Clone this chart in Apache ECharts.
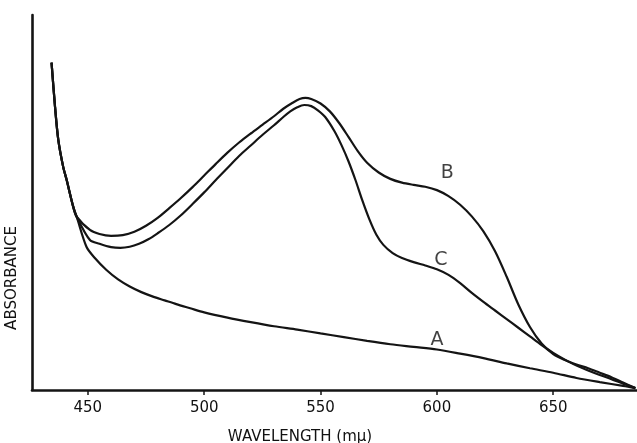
<!DOCTYPE html>
<html>
<head>
<meta charset="utf-8">
<script src="https://cdn.jsdelivr.net/npm/echarts@6/dist/echarts.min.js"></script>
<style>
  html, body { margin: 0; padding: 0; background: #fff; }
  #chart { width: 637px; height: 443px; }
</style>
</head>
<body>
<div id="chart"></div>
<script>
// Absorption spectra A, B and C (relative absorbance vs wavelength in mμ)

// Steep rising edge shared by all three spectra below ~445 mμ
const edgeWl  = [434.4, 435.9, 437.3, 439.4, 440.9, 443.7, 445.2];
const edgeAbs = [0.873, 0.755, 0.667, 0.595, 0.560, 0.489, 0.462];

const wlA  = [449.4, 453, 458, 463, 468, 473, 478, 483, 488, 494, 500, 510, 520, 530, 540, 550, 560, 570,
              580, 590, 600, 610, 620, 630, 640, 650, 660, 670, 680, 685.3];
const absA = [0.382, 0.352, 0.320, 0.295, 0.276, 0.261, 0.249, 0.239, 0.229, 0.218, 0.207, 0.193, 0.181, 0.170,
              0.161, 0.151, 0.141, 0.131, 0.122, 0.115, 0.108, 0.097, 0.085, 0.071, 0.058, 0.046, 0.032, 0.021,
              0.011, 0.005];

const wlB  = [450.9, 455, 460, 465, 470, 475, 480, 485, 490, 495, 500, 505, 510, 515, 520, 525, 530, 534, 538,
              541, 543.5, 546, 550, 554, 558, 562, 566, 570, 575, 580, 585, 590, 595, 600, 605, 610, 615, 620,
              625, 630, 635, 640, 645, 650, 655, 660, 665, 670, 675, 680, 685.3];
const absB = [0.427, 0.416, 0.411, 0.413, 0.422, 0.438, 0.459, 0.485, 0.512, 0.541, 0.572, 0.603, 0.633, 0.660,
              0.684, 0.707, 0.730, 0.750, 0.766, 0.776, 0.779, 0.776, 0.764, 0.743, 0.712, 0.675, 0.637, 0.606,
              0.580, 0.563, 0.553, 0.547, 0.542, 0.533, 0.517, 0.494, 0.463, 0.423, 0.370, 0.302, 0.228, 0.168,
              0.124, 0.096, 0.080, 0.068, 0.058, 0.046, 0.034, 0.020, 0.005];

const wlC  = [450.9, 455, 460, 464, 468, 472, 476, 480, 485, 490, 495, 500, 505, 510, 515, 520, 525, 530, 534,
              537, 540, 543, 546, 549, 552, 556, 559, 562, 565, 568, 571, 574, 577, 581, 585, 590, 595, 600,
              605, 610, 615, 620, 625, 630, 635, 640, 645, 650, 655, 660, 665, 670, 675, 680, 685.3];
const absC = [0.400, 0.390, 0.381, 0.379, 0.382, 0.390, 0.402, 0.418, 0.440, 0.466, 0.496, 0.527, 0.560, 0.592,
              0.624, 0.652, 0.680, 0.706, 0.728, 0.743, 0.754, 0.760, 0.757, 0.745, 0.728, 0.690, 0.653, 0.610,
              0.560, 0.505, 0.455, 0.414, 0.387, 0.365, 0.352, 0.341, 0.332, 0.322, 0.307, 0.285, 0.259, 0.235,
              0.212, 0.189, 0.166, 0.143, 0.120, 0.099, 0.081, 0.065, 0.052, 0.040, 0.029, 0.017, 0.005];

// Curve letters and where they sit
const curveNames = ['A', 'B', 'C'];
const nameWl  = [600.0, 604.5, 601.7];
const nameAbs = [0.133, 0.579, 0.347];

const xTicks = [450, 500, 550, 600, 650];

function pairs(xs, ys) {
  return xs.map((x, i) => [x, ys[i]]);
}
function withEdge(xs, ys) {
  return pairs(edgeWl, edgeAbs).concat(pairs(xs, ys));
}

const ink = '#141414';
const lineStyle = { color: ink, width: 2.2 };

const chart = echarts.init(document.getElementById('chart'), null, { renderer: 'canvas' });

function spectrum(name, xs, ys) {
  return {
    name, type: 'line', data: withEdge(xs, ys),
    showSymbol: false, smooth: 0.3, lineStyle
  };
}

chart.setOption({
  backgroundColor: '#ffffff',
  animation: false,
  grid: { left: 32, right: 0, top: 15, bottom: 53, containLabel: false },
  xAxis: {
    type: 'value',
    min: 426,
    max: 686,
    axisLine: { show: true, lineStyle: { color: ink, width: 2.6 } },
    axisTick: {
      show: true, length: 5, customValues: xTicks,
      lineStyle: { color: ink, width: 1.5 }
    },
    axisLabel: {
      show: true, customValues: xTicks, margin: 11,
      color: '#111', fontFamily: 'DejaVu Sans', fontSize: 15
    },
    splitLine: { show: false }
  },
  yAxis: {
    type: 'value',
    min: 0,
    max: 1,
    axisLine: { show: true, lineStyle: { color: ink, width: 2.6 } },
    axisTick: { show: false },
    axisLabel: { show: false },
    splitLine: { show: false }
  },
  graphic: [
    {
      type: 'text',
      x: 300, y: 437,
      style: {
        text: 'WAVELENGTH (mμ)',
        fill: '#111', font: '15px "DejaVu Sans"',
        align: 'center', verticalAlign: 'middle'
      }
    },
    {
      type: 'text',
      x: 12, y: 278,
      rotation: Math.PI / 2,
      style: {
        text: 'ABSORBANCE',
        fill: '#111', font: '15px "DejaVu Sans"',
        align: 'center', verticalAlign: 'middle'
      }
    }
  ],
  series: [
    spectrum('A', wlA, absA),
    spectrum('B', wlB, absB),
    spectrum('C', wlC, absC),
    {
      type: 'scatter',
      symbolSize: 0,
      data: curveNames.map((n, i) => ({ name: n, value: [nameWl[i], nameAbs[i]] })),
      label: {
        show: true, position: 'inside', formatter: '{b}',
        color: '#111', fontFamily: 'DejaVu Sans', fontSize: 19
      }
    }
  ]
});
</script>
</body>
</html>
